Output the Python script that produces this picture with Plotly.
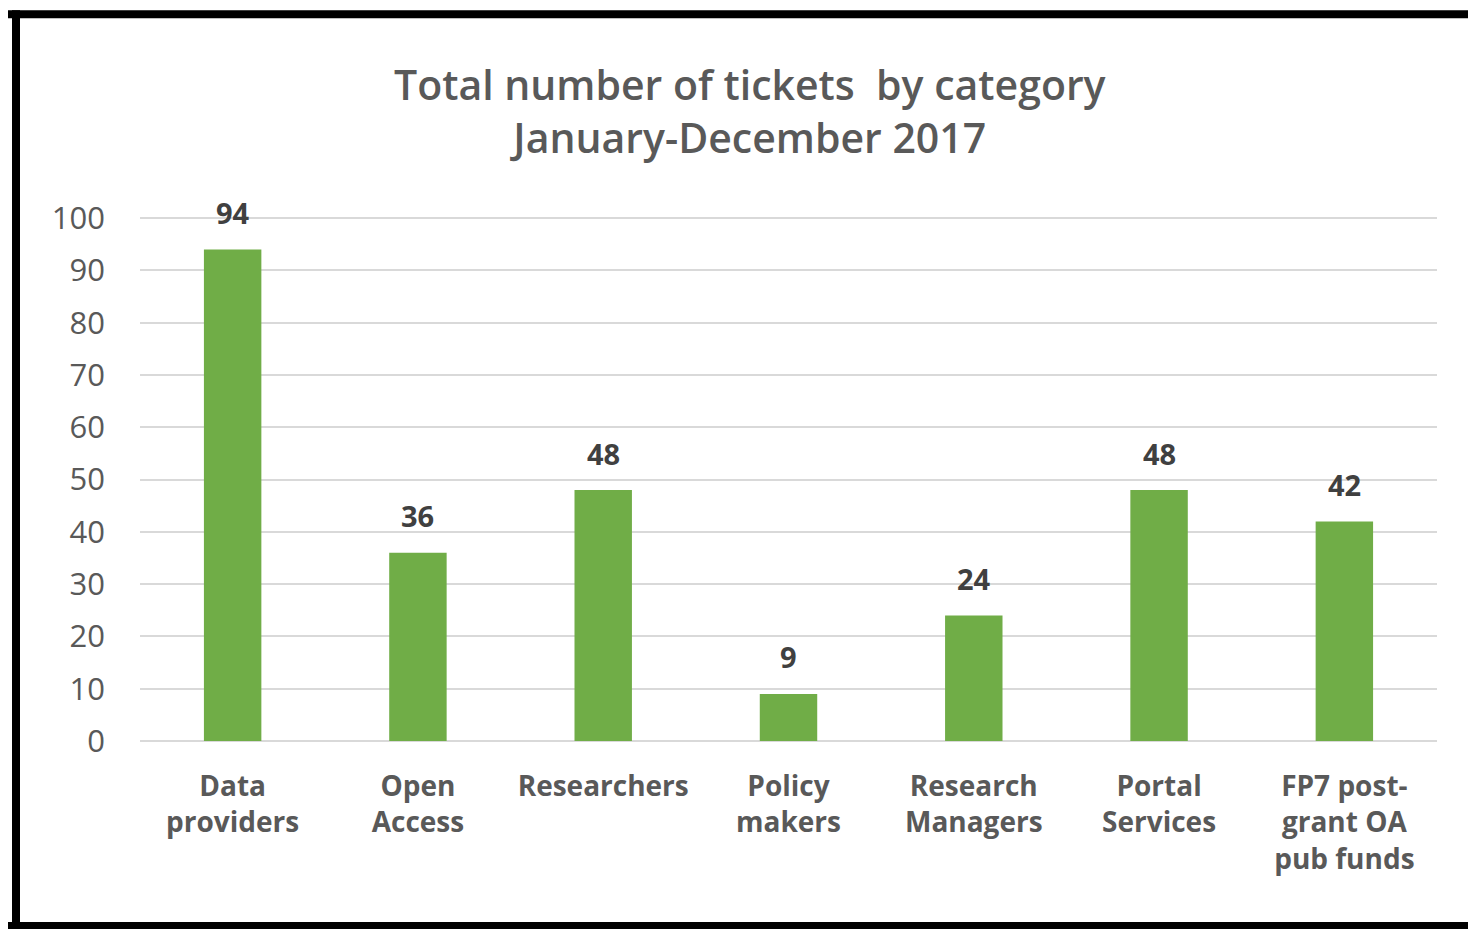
import plotly.graph_objects as go

categories = ["Data<br>providers", "Open<br>Access", "Researchers", "Policy<br>makers",
              "Research<br>Managers", "Portal<br>Services", "FP7 post-<br>grant OA<br>pub funds"]
tickets = [94, 36, 48, 9, 24, 48, 42]
y_ticks = [0, 10, 20, 30, 40, 50, 60, 70, 80, 90, 100]

# page has an 8px body margin, so the figure is drawn at (8, 8)
W, H = 1468, 921
YMAX = 100.4
L, R = 132, 39
B = 188
PH = 523 * YMAX / 100
T = H - B - PH
PW = W - L - R

def px(x):
    return (x - L) / PW

def py(y):
    return (H - B - y) / PH

fig = go.Figure()
fig.add_trace(go.Bar(
    x=categories, y=tickets,
    marker=dict(color="#70AD47", line=dict(width=0)),
    width=0.31,
    hoverinfo="x+y",
))

annotations = [dict(
    text="Total number of tickets  by category<br>January-December 2017",
    xref="paper", yref="paper", x=px(742), y=py(102), xanchor="center", yanchor="middle",
    showarrow=False, font=dict(family="Open Sans", size=41, color="#595959", weight=600),
)]
for c, v in zip(categories, tickets):
    annotations.append(dict(
        x=c, y=v, xref="x", yref="y", text=str(v), showarrow=False,
        xanchor="center", yanchor="middle", yshift=37,
        font=dict(family="Open Sans", size=29, color="#404040", weight="bold"),
    ))

shapes = []
for (x0, y0, x1, y1) in [(-10, 2, W + 20, 10), (4, 2, 12, H + 10), (-10, 914, W + 20, H + 10)]:
    shapes.append(dict(type="rect", xref="paper", yref="paper",
                       x0=px(x0), x1=px(x1), y0=py(y1), y1=py(y0),
                       fillcolor="black", line=dict(width=0), layer="above"))

fig.update_layout(
    width=W, height=H,
    margin=dict(l=L, r=R, t=T, b=B, pad=0),
    paper_bgcolor="white", plot_bgcolor="white",
    showlegend=False,
    shapes=shapes,
    annotations=annotations,
    xaxis=dict(
        tickfont=dict(family="Open Sans", size=28, color="#595959", weight="bold"),
        showgrid=False, showline=False, ticks="", ticklabelstandoff=26,
    ),
    yaxis=dict(
        range=[0, YMAX], tickvals=y_ticks,
        tickfont=dict(family="Open Sans", size=31, color="#595959"),
        gridcolor="#D9D9D9", gridwidth=2,
        zeroline=True, zerolinecolor="#D9D9D9", zerolinewidth=2,
        showline=False, ticks="", ticklabelstandoff=34,
    ),
)

fig.write_html("out.html")
